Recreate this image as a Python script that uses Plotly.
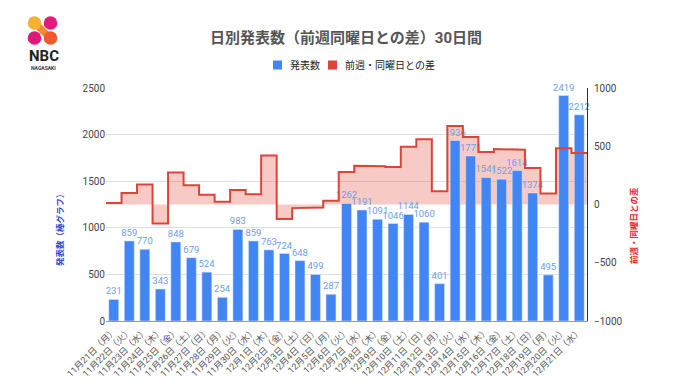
import plotly.graph_objects as go

dates = ["11月21日", "11月22日", "11月23日", "11月24日", "11月25日", "11月26日", "11月27日",
         "11月28日", "11月29日", "11月30日", "12月1日", "12月2日", "12月3日", "12月4日",
         "12月5日", "12月6日", "12月7日", "12月8日", "12月9日", "12月10日", "12月11日",
         "12月12日", "12月13日", "12月14日", "12月15日", "12月16日", "12月17日", "12月18日",
         "12月19日", "12月20日", "12月21日"]
weekdays = ["月", "火", "水", "木", "金", "土", "日",
            "月", "火", "水", "木", "金", "土", "日",
            "月", "火", "水", "木", "金", "土", "日",
            "月", "火", "水", "木", "金", "土", "日",
            "月", "火", "水"]
counts = [231, 859, 770, 343, 848, 679, 524,
          254, 983, 859, 763, 724, 648, 499,
          287, 1262, 1191, 1091, 1046, 1144, 1060,
          401, 1936, 1771, 1541, 1522, 1614, 1374,
          495, 2419, 2212]
diffs = [12, 98, 171, -163, 274, 166, 83,
         23, 124, 89, 420, -124, -31, -25,
         33, 279, 332, 328, 322, 496, 561,
         114, 674, 580, 450, 476, 470, 314,
         94, 483, 441]
left_ticks = [0, 500, 1000, 1500, 2000, 2500]
right_ticks = [-1000, -500, 0, 500, 1000]

labels = [f"{d}（{w}）" for d, w in zip(dates, weekdays)]
idx = list(range(len(counts)))

# step coordinates for the stepped area (each category spans its full slot)
step_x, step_y = [], []
for i, d in zip(idx, diffs):
    step_x += [i - 0.5, i + 0.5]
    step_y += [d, d]

BLUE = "#4285F4"
RED = "#DB4437"
FONT = "Roboto, 'Noto Sans CJK JP', sans-serif"

fig = go.Figure()
# stepped area (behind bars) on base axis y (right side)
fig.add_trace(go.Scatter(x=step_x, y=step_y, yaxis="y", mode="none",
                         fill="tozeroy", fillcolor="rgba(234,90,78,0.32)",
                         hoverinfo="skip", showlegend=False))
# bars on overlay axis y2 (left side)
fig.add_trace(go.Bar(x=idx, y=counts, yaxis="y2", marker_color=BLUE,
                     width=0.64, text=[str(c) for c in counts],
                     textposition="outside", cliponaxis=False, constraintext="none",
                     textfont=dict(color="#6D9EEB", size=9.5, family=FONT),
                     showlegend=False))
# step line on top
fig.add_trace(go.Scatter(x=step_x, y=step_y, yaxis="y3", mode="lines",
                         line=dict(color=RED, width=2), showlegend=False))

L, R, T, B = 98, 101, 80, 69
W, H = 680 - L - R, 382 - T - B

def px(x):
    return (x - L) / W

def py(y):
    return (382 - B - y) / H

shapes = []
annotations = []

# logo
logo = [(26.5, 15, "#F7B233"), (42.5, 15, "#E4197E"), (26.5, 30, "#E0187A"), (42.5, 30, "#EE5A2A")]
shapes.append(dict(type="path", xref="paper", yref="paper",
                   path=f"M {px(24)} {py(17)} L {px(29)} {py(12)} L {px(45)} {py(28)} L {px(40)} {py(33)} Z",
                   fillcolor="#F28A30", line=dict(width=0), layer="above"))
for cx, cy, col in logo:
    shapes.append(dict(type="circle", xref="paper", yref="paper",
                       x0=px(cx - 6.8), x1=px(cx + 6.8), y0=py(cy + 6.8), y1=py(cy - 6.8),
                       fillcolor=col, line=dict(width=0), layer="above"))
annotations.append(dict(text="<b>NBC</b>", x=px(35.5), y=py(48), xref="paper", yref="paper",
                        showarrow=False, font=dict(size=15, color="#222", family="Roboto"),
                        xanchor="center", yanchor="middle"))
annotations.append(dict(text="<b>NAGASAKI</b>", x=px(35.5), y=py(60), xref="paper", yref="paper",
                        showarrow=False, font=dict(size=5, color="#333", family="Roboto"),
                        xanchor="center", yanchor="middle"))

# legend (manual)
shapes.append(dict(type="rect", xref="paper", yref="paper", x0=px(265), x1=px(274),
                   y0=py(61.5), y1=py(52.5), fillcolor=BLUE, line=dict(width=0)))
annotations.append(dict(text="発表数", x=px(280), y=py(57), xref="paper", yref="paper",
                        showarrow=False, xanchor="left", yanchor="middle",
                        font=dict(size=10, color="#222", family=FONT)))
shapes.append(dict(type="rect", xref="paper", yref="paper", x0=px(320), x1=px(329),
                   y0=py(61.5), y1=py(52.5), fillcolor=RED, line=dict(width=0)))
annotations.append(dict(text="前週・同曜日との差", x=px(335), y=py(57), xref="paper", yref="paper",
                        showarrow=False, xanchor="left", yanchor="middle",
                        font=dict(size=10, color="#222", family=FONT)))

# axis titles
annotations.append(dict(text="<b>発表数（棒グラフ）</b>", x=px(52), y=py(220), xref="paper", yref="paper",
                        showarrow=False, textangle=-90, xanchor="center", yanchor="middle",
                        font=dict(size=8.5, color="#3347D6", family=FONT)))
annotations.append(dict(text="<b>前週・同曜日との差</b>", x=px(626), y=py(218), xref="paper", yref="paper",
                        showarrow=False, textangle=-90, xanchor="center", yanchor="middle",
                        font=dict(size=8.5, color="#E8262B", family=FONT)))

fig.update_layout(
    width=680, height=382,
    margin=dict(l=L, r=R, t=T, b=B, autoexpand=False),
    paper_bgcolor="white", plot_bgcolor="white",
    font=dict(family=FONT, color="#444"),
    title=dict(text="<b>日別発表数（前週同曜日との差）30日間</b>", x=338 / 680, xanchor="center",
               y=1 - 30 / 382, yanchor="middle", yref="container",
               font=dict(size=15, color="#555", family=FONT)),
    bargap=0.3,
    xaxis=dict(range=[-0.5, len(counts) - 0.5], tickmode="array", tickvals=idx, ticktext=labels,
               tickangle=-45, tickfont=dict(size=9, color="#555"), showgrid=False,
               showline=True, linecolor="#999", linewidth=1, zeroline=False,
               ticks="", automargin=False, fixedrange=True),
    yaxis=dict(range=[-1000, 1000], side="right", tickvals=right_ticks,
               tickfont=dict(size=10, color="#444"), showgrid=False, zeroline=False,
               showline=True, linecolor="#333", linewidth=1, automargin=False,
               ticks="", ticklabelstandoff=4),
    yaxis2=dict(range=[0, 2500], side="left", overlaying="y", tickvals=left_ticks,
                tickfont=dict(size=10, color="#444"), showgrid=True, gridcolor="#dedede",
                gridwidth=1, zeroline=False, showline=False, automargin=False, ticks=""),
    yaxis3=dict(range=[-1000, 1000], overlaying="y", visible=False, side="right"),
    shapes=shapes,
    annotations=annotations,
)

fig.write_html("out.html")
